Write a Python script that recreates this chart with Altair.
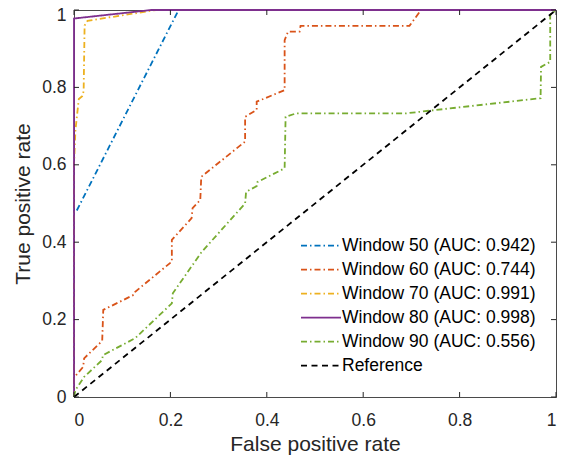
import altair as alt
import pandas as pd

# ---- data ----
series_names = [
    "Window 50 (AUC: 0.942)",
    "Window 60 (AUC: 0.744)",
    "Window 70 (AUC: 0.991)",
    "Window 80 (AUC: 0.998)",
    "Window 90 (AUC: 0.556)",
    "Reference",
]
series_colors = ["#0072BD", "#D95319", "#EDB120", "#7E2F8E", "#77AC30", "#000000"]

w50_x = [0, 0, 0.005, 0.217, 1]
w50_y = [0, 0.48, 0.48, 1, 1]

w60_x = [0, 0, 0.019, 0.021, 0.0585, 0.0607, 0.124, 0.127, 0.203, 0.203, 0.244, 0.246, 0.262,
         0.264, 0.355, 0.355, 0.379, 0.379, 0.437, 0.437, 0.444, 0.468, 0.47, 0.696, 0.72, 1]
w60_y = [0, 0.05, 0.078, 0.10, 0.145, 0.225, 0.264, 0.272, 0.35, 0.406, 0.462, 0.488, 0.509,
         0.569, 0.66, 0.724, 0.742, 0.763, 0.793, 0.922, 0.944, 0.944, 0.959, 0.959, 1, 1]

w70_x = [0, 0, 0.003, 0.01, 0.017, 0.02, 0.022, 0.028, 0.17, 1]
w70_y = [0, 0.6, 0.69, 0.77, 0.777, 0.79, 0.96, 0.972, 1, 1]

w80_x = [0, 0, 0.16, 1]
w80_y = [0, 0.978, 1, 1]

w90_x = [0, 0.003, 0.021, 0.058, 0.06, 0.127, 0.203, 0.205, 0.265, 0.355, 0.357, 0.379, 0.38,
         0.437, 0.439, 0.461, 0.689, 0.968, 0.969, 0.988, 0.988, 1]
w90_y = [0, 0.018, 0.052, 0.095, 0.108, 0.152, 0.242, 0.268, 0.375, 0.5, 0.53, 0.545, 0.555,
         0.591, 0.724, 0.733, 0.733, 0.772, 0.853, 0.866, 0.987, 1]

ref_x = [0, 1]
ref_y = [0, 1]

tick_values = [0, 0.2, 0.4, 0.6, 0.8, 1]

# ---- build table ----
xs = [w50_x, w60_x, w70_x, w80_x, w90_x, ref_x]
ys = [w50_y, w60_y, w70_y, w80_y, w90_y, ref_y]
rows = []
for s, (sx, sy) in enumerate(zip(xs, ys)):
    for i, (a, b) in enumerate(zip(sx, sy)):
        rows.append({"series": series_names[s], "sidx": s, "i": i, "x": a, "y": b})
df = pd.DataFrame(rows)
xticks = pd.DataFrame({"x": tick_values})
yticks = pd.DataFrame({"y": tick_values})

W, H = 482, 387
dashdot = [6, 3, 1.5, 3]

xscale = alt.Scale(domain=[0, 1], nice=False, zero=False)
yscale = alt.Scale(domain=[0, 1], nice=False, zero=False)
xaxis = alt.Axis(title="False positive rate", values=tick_values, format="~g")
yaxis = alt.Axis(title="True positive rate", values=tick_values, format="~g",
                 labelOffset={"condition": {"test": "datum.value == 1", "value": 5}, "value": 0})

lines = alt.Chart(df).mark_line(clip=False).encode(
    x=alt.X("x:Q", scale=xscale, axis=xaxis),
    y=alt.Y("y:Q", scale=yscale, axis=yaxis),
    color=alt.Color("series:N", scale=alt.Scale(domain=series_names, range=series_colors),
                    legend=alt.Legend(title=None)),
    strokeDash=alt.StrokeDash("series:N", scale=alt.Scale(
        domain=series_names,
        range=[dashdot, dashdot, dashdot, [1, 0], dashdot, [6, 4.5]]),
        legend=alt.Legend(title=None)),
    strokeWidth=alt.StrokeWidth("series:N", scale=alt.Scale(
        domain=series_names, range=[1.8, 1.8, 1.8, 3, 1.8, 1.7]),
        legend=alt.Legend(title=None)),
    detail="sidx:O",
    order=alt.Order("i:Q"),
)

tick_col = "#262626"
xb = alt.Chart(xticks).mark_rule(color=tick_col, strokeWidth=1).encode(
    x=alt.X("x:Q", scale=xscale, axis=xaxis), y=alt.value(H), y2=alt.value(H - 5))
xt = alt.Chart(xticks).mark_rule(color=tick_col, strokeWidth=1).encode(
    x=alt.X("x:Q", scale=xscale, axis=xaxis), y=alt.value(0), y2=alt.value(5))
yl = alt.Chart(yticks).mark_rule(color=tick_col, strokeWidth=1).encode(
    y=alt.Y("y:Q", scale=yscale, axis=yaxis), x=alt.value(0), x2=alt.value(5))
yr = alt.Chart(yticks).mark_rule(color=tick_col, strokeWidth=1).encode(
    y=alt.Y("y:Q", scale=yscale, axis=yaxis), x=alt.value(W), x2=alt.value(W - 5))

chart = alt.layer(lines, xb, xt, yl, yr).properties(
    width=W, height=H,
    autosize=alt.AutoSizeParams(type="none"),
    padding={"left": 66, "top": 2, "right": 2, "bottom": 58},
).configure_view(
    stroke="#4a4a4a", strokeWidth=1
).configure_axis(
    domainColor="#4a4a4a", domainWidth=1, ticks=False, grid=False,
    labelFont="Liberation Sans", labelFontSize=17.5, labelColor="#262626",
    titleFont="Liberation Sans", titleFontSize=21, titleColor="#262626", titleFontWeight="normal",
).configure_axisX(
    labelPadding=14, titlePadding=5,
).configure_axisY(
    labelPadding=8, titlePadding=8,
).configure_legend(
    orient="none", legendX=226, legendY=224, padding=0,
    symbolType="stroke", symbolSize=1600, symbolStrokeWidth=1.8,
    labelFont="Liberation Sans", labelFontSize=17.5, labelColor="#000000", labelLimit=400,
    labelOffset=0, rowPadding=0, clipHeight=23.4, fillColor="white",
)

chart.save("out.html", embed_options={"renderer": "svg", "actions": False})
